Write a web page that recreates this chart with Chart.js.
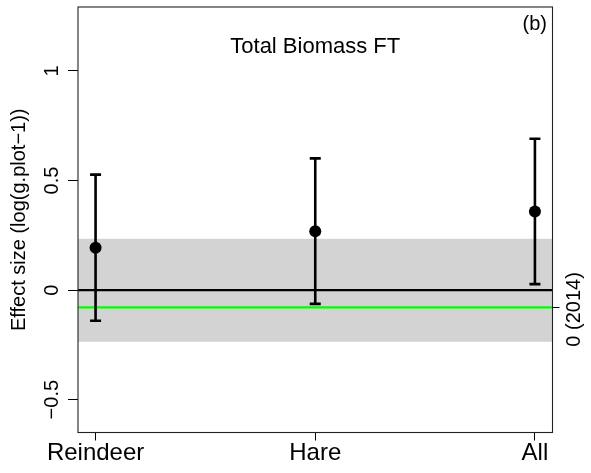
<!DOCTYPE html>
<html>
<head>
<meta charset="utf-8">
<script src="https://cdn.jsdelivr.net/npm/chart.js@4/dist/chart.umd.min.js"></script>
<style>
  html, body { margin: 0; padding: 0; background: #fff; }
  canvas { display: block; }
</style>
</head>
<body>
<canvas id="c" width="591" height="473"></canvas>
<script>
// Effect sizes with confidence intervals per herbivore treatment
const categories = ['Reindeer', 'Hare', 'All'];
const effect = [0.193, 0.269, 0.359];
const ciLow = [-0.140, -0.063, 0.027];
const ciHigh = [0.527, 0.601, 0.691];

// Y axis ticks
const yTicks = [-0.5, 0, 0.5, 1];
const yTickLabels = ['\u22120.5', '0', '0.5', '1'];

// 2014 baseline: reference value and its interval
const ref2014 = -0.079;
const band2014 = [-0.236, 0.234];
const refLabel = '0 (2014)';

const titleText = 'Total Biomass FT';
const panelTag = '(b)';
const yTitle = 'Effect size (log(g.plot\u22121))';

const FONT = '"Liberation Sans", Arial, Helvetica, sans-serif';

const decor = {
  id: 'decor',
  beforeDatasetsDraw(chart) {
    const { ctx, chartArea: a, scales: { x, y } } = chart;
    ctx.save();
    // baseline interval band
    const bTop = y.getPixelForValue(band2014[1]);
    const bBot = y.getPixelForValue(band2014[0]);
    ctx.fillStyle = '#d3d3d3';
    ctx.fillRect(a.left, bTop, a.right - a.left, bBot - bTop);

    // zero line
    ctx.lineWidth = 2.4;
    ctx.strokeStyle = '#000';
    let py = y.getPixelForValue(0);
    ctx.beginPath(); ctx.moveTo(a.left, py); ctx.lineTo(a.right, py); ctx.stroke();

    // 2014 reference line
    ctx.strokeStyle = '#00ff00';
    py = y.getPixelForValue(ref2014);
    ctx.beginPath(); ctx.moveTo(a.left, py); ctx.lineTo(a.right, py); ctx.stroke();

    // confidence intervals
    ctx.strokeStyle = '#000';
    ctx.lineWidth = 2.6;
    categories.forEach((c, i) => {
      const px = x.getPixelForValue(i + 1);
      const lo = y.getPixelForValue(ciLow[i]);
      const hi = y.getPixelForValue(ciHigh[i]);
      ctx.beginPath();
      ctx.moveTo(px, lo); ctx.lineTo(px, hi);
      ctx.moveTo(px - 5.5, lo); ctx.lineTo(px + 5.5, lo);
      ctx.moveTo(px - 5.5, hi); ctx.lineTo(px + 5.5, hi);
      ctx.stroke();
    });
    ctx.restore();
  },
  afterDraw(chart) {
    const { ctx, chartArea: a, scales: { y } } = chart;
    ctx.save();
    // frame
    ctx.strokeStyle = '#222';
    ctx.lineWidth = 1.1;
    ctx.strokeRect(a.left, a.top, a.right - a.left, a.bottom - a.top);

    ctx.fillStyle = '#000';
    // y tick labels, rotated
    ctx.font = '20px ' + FONT;
    ctx.textAlign = 'center';
    ctx.textBaseline = 'middle';
    y.ticks.forEach(t => {
      const idx = yTicks.indexOf(t.value);
      if (idx < 0) return;
      ctx.save();
      ctx.translate(52.5, y.getPixelForValue(t.value));
      ctx.rotate(-Math.PI / 2);
      ctx.fillText(yTickLabels[idx], 0, 0);
      ctx.restore();
    });

    // right-side reference label
    ctx.save();
    ctx.translate(574.5, y.getPixelForValue(ref2014) + 2);
    ctx.rotate(-Math.PI / 2);
    ctx.fillText(refLabel, 0, 0);
    ctx.restore();

    // panel title and tag
    ctx.textBaseline = 'alphabetic';
    ctx.font = '22px ' + FONT;
    ctx.fillText(titleText, (a.left + a.right) / 2, 53.3);
    ctx.font = '20px ' + FONT;
    ctx.textAlign = 'right';
    ctx.fillText(panelTag, 547, 29.5);
    ctx.restore();
  }
};

new Chart(document.getElementById('c'), {
  type: 'scatter',
  data: {
    datasets: [{
      data: categories.map((c, i) => ({ x: i + 1, y: effect[i] })),
      pointRadius: 6,
      pointHoverRadius: 6,
      backgroundColor: '#000',
      borderWidth: 0,
      showLine: false
    }]
  },
  options: {
    responsive: false,
    animation: false,
    devicePixelRatio: 1,
    layout: { padding: { top: 7, left: 0, right: 0, bottom: 0 } },
    plugins: { legend: { display: false }, tooltip: { enabled: false } },
    scales: {
      x: {
        type: 'linear',
        position: 'bottom',
        min: 0.92,
        max: 3.08,
        afterBuildTicks: s => { s.ticks = categories.map((c, i) => ({ value: i + 1 })); },
        afterFit: s => { s.height = 40.5; },
        border: { display: false },
        grid: { drawOnChartArea: false, drawTicks: true, tickLength: 8, color: '#000', lineWidth: 1 },
        ticks: {
          callback: v => categories[v - 1],
          font: { family: FONT, size: 24, lineHeight: 1 },
          color: '#000',
          padding: 1,
          maxRotation: 0,
          autoSkip: false
        }
      },
      y: {
        type: 'linear',
        position: 'left',
        min: -0.650,
        max: 1.292,
        afterBuildTicks: s => { s.ticks = yTicks.map(v => ({ value: v })); },
        afterFit: s => { s.width = 78; },
        border: { display: false },
        grid: { drawOnChartArea: false, drawTicks: true, tickLength: 10, color: '#000', lineWidth: 1 },
        ticks: { display: false },
        title: {
          display: true,
          text: yTitle,
          color: '#000',
          font: { family: FONT, size: 20, lineHeight: 1 },
          padding: { top: 9, bottom: 0 }
        }
      },
      y2: {
        type: 'linear',
        position: 'right',
        min: -0.650,
        max: 1.292,
        afterBuildTicks: s => { s.ticks = [{ value: ref2014 }]; },
        afterFit: s => { s.width = 38.5; },
        border: { display: false },
        grid: { drawOnChartArea: false, drawTicks: true, tickLength: 7, color: '#000', lineWidth: 1 },
        ticks: { display: false }
      }
    }
  },
  plugins: [decor]
});
</script>
</body>
</html>
